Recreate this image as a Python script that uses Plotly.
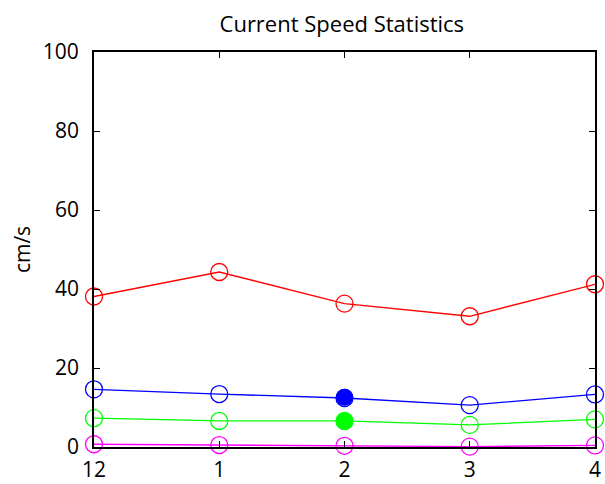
import plotly.graph_objects as go

categories = ["12", "1", "2", "3", "4"]
red_vals = [38.1, 44.3, 36.3, 33.1, 41.2]
blue_vals = [14.6, 13.4, 12.4, 10.6, 13.3]
green_vals = [7.3, 6.6, 6.6, 5.6, 7.0]
magenta_vals = [0.7, 0.5, 0.3, 0.1, 0.4]
filled_cat = ["2"]
filled_blue = [12.6]
filled_green = [6.6]

xpos = list(range(len(categories)))
fig = go.Figure()
for vals, col in [(red_vals, "#ff0000"), (blue_vals, "#0000ff"),
                  (green_vals, "#00ff00"), (magenta_vals, "#ff00ff")]:
    fig.add_trace(go.Scatter(
        x=xpos, y=vals, mode="lines+markers",
        line=dict(color=col, width=1.3),
        marker=dict(symbol="circle-open", size=17, color=col, line=dict(width=1.3)),
        showlegend=False, cliponaxis=False))
fx = [categories.index(c) for c in filled_cat]
for vals, col in [(filled_blue, "#0000ff"), (filled_green, "#00ff00")]:
    fig.add_trace(go.Scatter(
        x=fx, y=vals, mode="markers",
        marker=dict(symbol="circle", size=17, color=col),
        showlegend=False, cliponaxis=False))

axis_common = dict(showline=True, linecolor="black", linewidth=1.8, mirror="ticks",
                   ticks="inside", ticklen=6, tickcolor="black", showgrid=False,
                   zeroline=False, automargin=False,
                   tickfont=dict(size=21, color="black", family="Open Sans"))
fig.update_xaxes(range=[0, len(categories) - 1], tickmode="array", tickvals=xpos,
                 ticktext=categories, ticklabelstandoff=3, **axis_common)
fig.update_yaxes(range=[0, 100], tickmode="array", tickvals=[0, 20, 40, 60, 80, 100],
                 ticklabelstandoff=9,
                 title=dict(text="cm/s", font=dict(size=21, color="black", family="Open Sans"),
                            standoff=7),
                 **axis_common)
fig.update_layout(
    width=605, height=484, autosize=False, template="none",
    margin=dict(l=94, r=10, t=52, b=37),
    paper_bgcolor="white", plot_bgcolor="white",
    title=dict(text="Current Speed Statistics", x=0.565, xanchor="center", y=0.95,
               yanchor="middle", font=dict(size=22, color="black", family="Open Sans")),
)
fig.write_html("out.html", config={"displayModeBar": False, "responsive": False},
               post_script="document.body.style.margin='0';document.body.style.overflow='hidden';")
